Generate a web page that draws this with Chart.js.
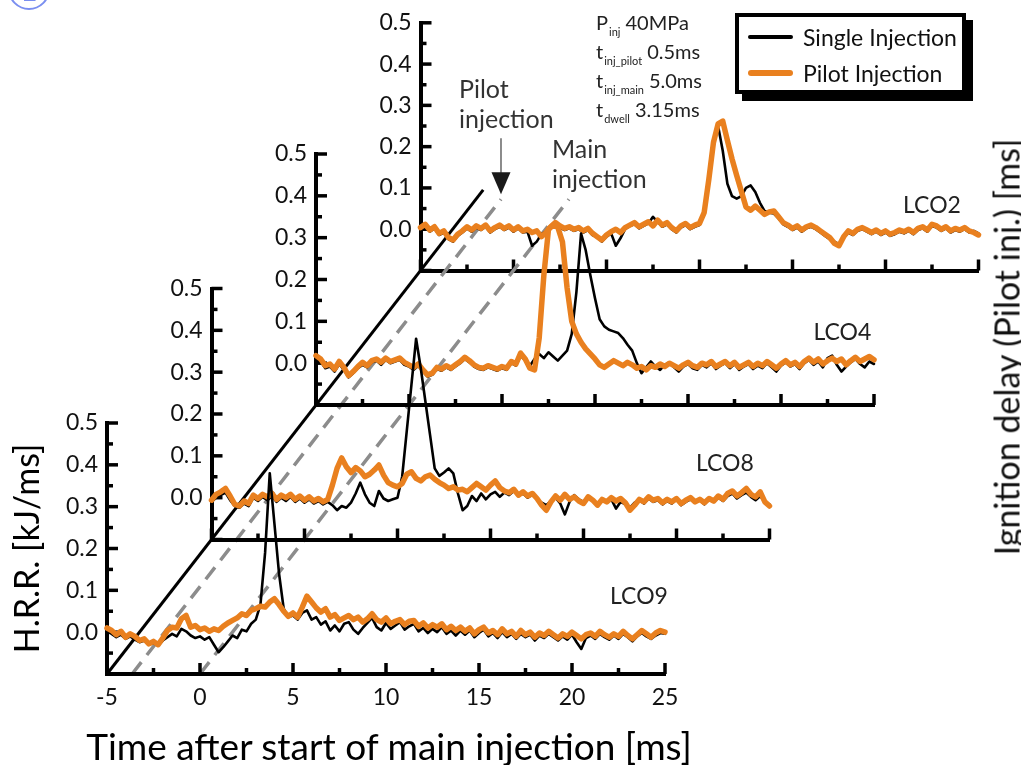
<!DOCTYPE html>
<html>
<head>
<meta charset="utf-8">
<script src="https://cdn.jsdelivr.net/npm/chart.js@4.4.1/dist/chart.umd.min.js"></script>
<style>
  html, body { margin: 0; padding: 0; background: #fff; }
  #wrap { position: relative; width: 1021px; height: 765px; overflow: hidden;
          font-family: Lato, "Open Sans", sans-serif; color: #222; }
  #wrap canvas { position: absolute; left: 0; top: 0; }
  .note { position: absolute; font-size: 25px; line-height: 30px; color: #333; }
  #params { position: absolute; left: 596px; top: 8px; font-size: 20px; color: #222; }
  #params div { height: 29px; line-height: 29px; white-space: nowrap; }
  #params sub { font-size: 11px; line-height: 0; vertical-align: -6px; margin: 0 5px 0 1px; }
  #legend { position: absolute; left: 735px; top: 13px; width: 231px; height: 81px; box-sizing: border-box;
            border: 4px solid #000; background: #fff; box-shadow: 7px 7px 0 #000; }
  #legend .row { position: absolute; left: 0; height: 30px; font-size: 23px; line-height: 30px; color: #111; }
  #legend .swatch { position: absolute; left: 9px; top: 50%; width: 45px; }
  #legend .text { position: absolute; left: 64px; top: 0; white-space: nowrap; }
  #delayTitle { position: absolute; left: 1006px; top: 347px; font-size: 34px; white-space: nowrap; color: #111;
                transform: translate(-50%, -50%) rotate(-90deg); }
  #timeTitle { position: absolute; left: 389px; top: 745px; font-size: 37px; white-space: nowrap; color: #000;
               transform: translate(-50%, -50%); line-height: 1; }
  #figNo { position: absolute; left: 8px; top: -32px; width: 38px; height: 38px; border: 2px solid #7b8ff0;
           border-radius: 50%; color: #7b8ff0; font-size: 30px; line-height: 38px; text-align: center; }
</style>
</head>
<body>
<div id="wrap">
  <canvas id="p4" width="1021" height="765"></canvas>
  <canvas id="p3" width="1021" height="765"></canvas>
  <canvas id="p2" width="1021" height="765"></canvas>
  <canvas id="p1" width="1021" height="765"></canvas>
  <div id="figNo">1</div>
  <div id="params">
    <div>P<sub>inj</sub>40MPa</div>
    <div>t<sub>inj_pilot</sub>0.5ms</div>
    <div>t<sub>inj_main</sub>5.0ms</div>
    <div>t<sub>dwell</sub>3.15ms</div>
  </div>
  <div class="note" style="left:459px; top:73px;">Pilot<br>injection</div>
  <div class="note" style="left:552px; top:133px;">Main<br>injection</div>
  <div id="legend"></div>
  <div id="delayTitle">Ignition delay (Pilot inj.) [ms]</div>
  <div id="timeTitle">Time after start of main injection [ms]</div>
</div>
<script>
// sampling grid of the heat release traces, ms after start of main injection
const timeMs = Array.from({ length: 121 }, (_, i) => -5 + i * 0.25);

// heat release rate [kJ/ms], one array per fuel and injection strategy
const lco9Single = [
  0.002, -0.004, -0.012, -0.006, -0.016, -0.010, -0.018, -0.024,
  -0.020, -0.030, -0.026, -0.032, -0.020, -0.012, -0.004, -0.010,
  0.008, 0.002, -0.008, -0.014, -0.010, -0.018, -0.012, -0.030,
  -0.048, -0.036, -0.022, -0.008, -0.014, 0.006, 0.002, 0.020,
  0.030, 0.066, 0.190, 0.380, 0.260, 0.140, 0.056, 0.036,
  0.040, 0.030, 0.046, 0.052, 0.030, 0.036, 0.018, 0.026,
  0.004, 0.016, 0.002, 0.020, 0.024, 0.006, -0.004, 0.010,
  0.022, 0.034, 0.012, 0.004, 0.022, 0.008, 0.016, 0.024,
  0.006, 0.014, 0.020, 0.002, 0.010, -0.002, 0.008, 0.000,
  0.012, -0.004, 0.004, -0.008, 0.004, -0.006, 0.004, -0.012,
  -0.002, 0.006, -0.010, -0.002, -0.014, 0.000, -0.012, -0.004,
  -0.016, -0.004, -0.012, -0.006, -0.020, -0.008, -0.014, -0.004,
  -0.012, -0.020, -0.010, -0.018, -0.006, -0.024, -0.040, -0.014,
  -0.008, -0.016, -0.004, -0.012, -0.018, -0.008, -0.016, -0.004,
  -0.012, -0.022, -0.010, -0.002, -0.010, -0.016, -0.008, -0.002,
  -0.004
];
const lco9Pilot = [
  0.010, 0.004, -0.006, 0.002, -0.012, -0.004, -0.010, -0.020,
  -0.016, -0.028, -0.022, -0.030, -0.014, 0.004, 0.012, 0.010,
  0.032, 0.040, 0.012, 0.016, 0.006, 0.010, 0.002, 0.008,
  0.004, 0.014, 0.022, 0.028, 0.034, 0.044, 0.040, 0.052,
  0.056, 0.062, 0.060, 0.072, 0.080, 0.066, 0.050, 0.038,
  0.046, 0.036, 0.060, 0.086, 0.072, 0.058, 0.048, 0.056,
  0.036, 0.042, 0.028, 0.034, 0.040, 0.030, 0.036, 0.024,
  0.032, 0.044, 0.030, 0.024, 0.034, 0.020, 0.026, 0.030,
  0.018, 0.026, 0.028, 0.014, 0.022, 0.010, 0.018, 0.012,
  0.020, 0.006, 0.014, 0.004, 0.012, 0.002, 0.010, -0.004,
  0.006, 0.012, -0.002, 0.004, -0.006, 0.008, -0.004, 0.002,
  -0.010, 0.004, -0.006, 0.000, -0.012, -0.002, -0.008, 0.002,
  -0.006, -0.014, -0.004, -0.010, 0.000, -0.008, -0.016, -0.006,
  -0.002, -0.010, 0.002, -0.006, -0.012, -0.004, -0.010, 0.002,
  -0.008, -0.016, -0.006, 0.004, -0.004, -0.012, -0.002, 0.004,
  0.000
];
const lco8Single = [
  -0.010, 0.000, 0.006, 0.012, -0.006, -0.020, -0.024, -0.014,
  -0.020, 0.000, -0.008, 0.002, -0.006, 0.004, -0.010, 0.000,
  -0.008, 0.002, -0.010, -0.002, -0.012, -0.004, -0.014, -0.008,
  -0.016, -0.010, -0.018, -0.030, -0.020, -0.024, -0.012, 0.010,
  0.036, 0.008, -0.012, -0.020, 0.016, -0.002, -0.008, -0.004,
  0.000, 0.050, 0.160, 0.270, 0.380, 0.310, 0.230, 0.150,
  0.070, 0.052, 0.060, 0.070, 0.058, 0.010, -0.030, -0.020,
  0.004, -0.008, 0.010, -0.004, 0.008, 0.014, 0.002, 0.012,
  0.006, 0.016, 0.004, 0.010, 0.000, 0.008, -0.004, -0.012,
  -0.018, -0.008, 0.000, -0.014, -0.040, -0.010, 0.006, -0.004,
  -0.010, 0.004, -0.008, -0.014, -0.006, -0.012, -0.004, -0.026,
  -0.010, -0.016, -0.024, -0.012, -0.006, -0.014, -0.002, -0.010,
  -0.006, -0.016, -0.008, -0.014, -0.004, -0.018, -0.010, -0.004,
  -0.012, -0.006, -0.016, -0.004, -0.010, 0.000, -0.008, 0.004,
  0.010, -0.002, 0.006, 0.012, 0.002, -0.006, 0.004, -0.010,
  -0.016
];
const lco8Pilot = [
  -0.006, 0.008, 0.014, 0.022, 0.004, -0.016, -0.020, -0.008,
  -0.014, 0.006, -0.002, 0.008, 0.002, 0.010, -0.004, 0.006,
  0.000, 0.008, -0.004, 0.004, -0.006, 0.002, -0.008, -0.002,
  -0.010, -0.004, 0.030, 0.070, 0.095, 0.074, 0.060, 0.072,
  0.064, 0.050, 0.056, 0.066, 0.078, 0.054, 0.036, 0.030,
  0.026, 0.034, 0.056, 0.062, 0.046, 0.040, 0.050, 0.054,
  0.044, 0.036, 0.030, 0.022, 0.026, 0.018, 0.020, 0.014,
  0.024, 0.034, 0.026, 0.018, 0.030, 0.040, 0.024, 0.016,
  0.012, 0.020, 0.006, 0.014, 0.004, 0.010, -0.002, -0.018,
  -0.030, -0.010, 0.004, -0.006, 0.008, -0.004, 0.002, -0.008,
  -0.014, 0.002, -0.006, -0.018, -0.004, -0.010, 0.000, -0.008,
  -0.002, -0.012, -0.030, -0.018, -0.004, -0.010, 0.002, -0.006,
  -0.002, -0.012, -0.004, -0.010, -0.002, -0.014, -0.006, 0.000,
  -0.010, -0.004, -0.012, -0.002, -0.008, 0.004, -0.004, 0.010,
  0.016, 0.004, 0.012, 0.022, 0.008, 0.002, 0.014, -0.010,
  -0.020
];
const lco4Single = [
  0.010, 0.004, -0.012, -0.008, -0.020, -0.002, -0.016, -0.034,
  -0.024, -0.012, -0.004, -0.010, 0.002, 0.006, -0.004, 0.008,
  0.000, 0.004, 0.008, -0.004, -0.008, -0.016, -0.006, -0.020,
  -0.032, -0.028, -0.014, -0.018, -0.010, -0.016, -0.008, 0.000,
  0.010, 0.002, -0.008, -0.014, -0.016, -0.010, -0.014, -0.018,
  -0.012, -0.016, 0.000, -0.006, 0.018, 0.006, -0.006, 0.010,
  0.022, 0.012, 0.026, 0.016, 0.006, 0.018, 0.030, 0.070,
  0.170, 0.310, 0.270, 0.210, 0.155, 0.105, 0.088, 0.080,
  0.076, 0.072, 0.060, 0.044, 0.030, 0.000, -0.024, -0.010,
  0.004, -0.008, -0.016, -0.004, 0.002, -0.010, -0.020, -0.008,
  -0.002, -0.012, -0.016, -0.004, -0.010, 0.000, -0.014, -0.006,
  0.000, -0.012, -0.002, -0.016, -0.008, -0.002, -0.014, -0.006,
  -0.012, 0.000, -0.010, -0.020, -0.006, 0.002, -0.008, -0.002,
  -0.014, 0.000, 0.008, -0.004, 0.004, -0.010, 0.012, 0.018,
  -0.004, -0.020, -0.008, 0.002, 0.010, -0.002, -0.010, 0.004,
  -0.002
];
const lco4Pilot = [
  0.018, 0.010, -0.006, -0.002, -0.014, 0.004, -0.010, -0.030,
  -0.020, -0.008, 0.002, -0.006, 0.006, 0.010, 0.002, 0.012,
  0.004, 0.008, 0.012, 0.002, -0.004, -0.010, -0.002, -0.016,
  -0.028, -0.024, -0.010, -0.014, -0.006, -0.012, -0.004, 0.004,
  0.014, 0.006, -0.004, -0.010, -0.012, -0.006, -0.010, -0.014,
  -0.008, -0.012, 0.004, -0.002, 0.024, 0.010, -0.012, -0.016,
  0.060, 0.210, 0.320, 0.330, 0.325, 0.290, 0.180, 0.100,
  0.070, 0.050, 0.034, 0.022, 0.010, -0.004, -0.010, -0.002,
  0.006, 0.000, -0.006, 0.002, -0.004, -0.012, -0.008, -0.016,
  -0.006, -0.010, -0.002, -0.008, 0.000, -0.006, -0.012, -0.004,
  0.002, -0.006, -0.010, 0.000, -0.004, 0.004, -0.008, -0.002,
  0.004, -0.006, 0.002, -0.010, -0.004, 0.002, -0.008, 0.000,
  -0.006, 0.004, -0.004, -0.012, -0.002, 0.006, -0.004, 0.002,
  -0.008, 0.004, 0.012, 0.002, 0.010, -0.002, 0.006, 0.012,
  0.004, 0.010, -0.004, 0.006, 0.014, 0.004, 0.010, 0.016,
  0.008
];
const lco2Single = [
  0.000, 0.008, -0.006, 0.002, -0.014, -0.008, -0.024, -0.030,
  -0.016, -0.008, 0.002, -0.006, 0.004, -0.002, 0.006, -0.008,
  0.000, 0.006, -0.002, 0.004, -0.006, 0.002, -0.008, -0.006,
  -0.040, -0.030, -0.012, -0.006, 0.002, 0.010, 0.004, -0.002,
  0.002, -0.004, 0.000, -0.008, -0.002, -0.014, -0.020, -0.030,
  -0.018, -0.010, -0.040, -0.022, 0.000, 0.008, 0.012, 0.002,
  0.008, 0.014, 0.030, 0.018, 0.006, 0.012, 0.000, -0.008,
  0.004, 0.010, 0.000, 0.006, 0.010, 0.036, 0.120, 0.210,
  0.250, 0.190, 0.110, 0.080, 0.074, 0.080, 0.100, 0.106,
  0.090, 0.064, 0.044, 0.040, 0.038, 0.026, 0.012, 0.006,
  -0.002, 0.004, -0.006, 0.002, 0.006, 0.000, -0.008, -0.016,
  -0.024, -0.030, -0.036, -0.022, -0.008, -0.014, -0.004, 0.000,
  -0.006, -0.012, -0.006, -0.014, -0.008, -0.016, -0.012, -0.006,
  -0.010, -0.004, -0.012, -0.002, 0.002, -0.006, 0.008, 0.004,
  -0.004, 0.002, -0.008, -0.002, -0.006, 0.000, -0.008, -0.004,
  -0.010
];
const lco2Pilot = [
  0.004, 0.012, -0.002, 0.006, -0.010, -0.004, -0.020, -0.026,
  -0.012, -0.004, 0.006, -0.002, 0.008, 0.002, 0.010, -0.004,
  0.004, 0.010, 0.002, 0.008, -0.002, 0.006, -0.004, 0.000,
  -0.008, -0.004, -0.018, -0.008, 0.006, 0.016, 0.008, 0.002,
  0.006, 0.000, 0.004, -0.004, 0.002, -0.010, -0.018, -0.026,
  -0.014, -0.006, 0.000, -0.008, 0.004, 0.010, 0.016, 0.006,
  0.012, 0.018, 0.008, 0.022, 0.010, 0.016, 0.004, -0.004,
  0.008, 0.014, 0.004, 0.010, 0.014, 0.040, 0.120, 0.210,
  0.255, 0.262, 0.215, 0.170, 0.130, 0.092, 0.054, 0.046,
  0.056, 0.046, 0.036, 0.042, 0.044, 0.030, 0.016, 0.010,
  0.002, 0.008, -0.002, 0.006, 0.010, 0.004, -0.004, -0.012,
  -0.020, -0.034, -0.040, -0.018, -0.004, -0.010, 0.000, 0.004,
  -0.002, -0.008, -0.002, -0.010, -0.004, -0.012, -0.008, -0.002,
  -0.006, 0.000, -0.008, 0.002, 0.006, -0.002, 0.012, 0.008,
  0.000, 0.006, -0.004, 0.002, -0.002, 0.004, -0.004, -0.008,
  -0.014
];

// injection timing [ms]
const tDwell = 3.15;
const tPilot = 0.5;
const pilotStart = -(tDwell + tPilot);

const FONT = 'Lato, "Open Sans", sans-serif';
const SINGLE = { label: 'Single Injection', color: '#000000', width: 2.6 };
const PILOT = { label: 'Pilot Injection', color: '#E9801F', width: 5.5 };

// every fuel gets its own panel, shifted up and right from the previous one
const PANEL = { left: 107, top: 423, width: 558, height: 251 };
const STEP = { x: 104.5, y: -134.5 };
const W = 1021, H = 765;

const panels = [
  { canvas: 'p1', tag: 'LCO9', single: lco9Single, pilot: lco9Pilot, tagAt: [23.6, 0.084] },
  { canvas: 'p2', tag: 'LCO8', single: lco8Single, pilot: lco8Pilot, tagAt: [22.6, 0.081] },
  { canvas: 'p3', tag: 'LCO4', single: lco4Single, pilot: lco4Pilot, tagAt: [23.3, 0.072] },
  { canvas: 'p4', tag: 'LCO2', single: lco2Single, pilot: lco2Pilot, tagAt: [22.5, 0.057] }
];

// diagonal guides through the panel corners: the -5 ms edge, pilot and main injection start
const guides = [
  { at: -5, color: '#000', width: 3, dash: [], reach: 0.6 },
  { at: pilotStart, color: '#8c8c8c', width: 3.5, dash: [15, 9], reach: 0.53, arrow: true },
  { at: 0, color: '#8c8c8c', width: 3.5, dash: [15, 9], reach: 0.53 }
];

// tick marks point into the plot, minor ones halfway between the labels
const inwardTicks = {
  id: 'inwardTicks',
  beforeDatasetsDraw(chart) {
    const { ctx, chartArea } = chart;
    const xs = chart.scales.x, ys = chart.scales.y;
    ctx.save();
    ctx.strokeStyle = '#000';
    ctx.lineWidth = 3.5;
    const mark = (vals, draw) => {
      vals.forEach((v, i) => {
        draw(v, 11);
        if (i < vals.length - 1) draw((v + vals[i + 1]) / 2, 6);
      });
    };
    mark(xs.ticks.map(t => t.value), (v, len) => {
      const px = xs.getPixelForValue(v);
      ctx.beginPath();
      ctx.moveTo(px, chartArea.bottom);
      ctx.lineTo(px, chartArea.bottom - len);
      ctx.stroke();
    });
    mark(ys.ticks.map(t => t.value), (v, len) => {
      const py = ys.getPixelForValue(v);
      ctx.beginPath();
      ctx.moveTo(chartArea.left, py);
      ctx.lineTo(chartArea.left + len, py);
      ctx.stroke();
    });
    ctx.restore();
  }
};

const fuelTag = {
  id: 'fuelTag',
  afterDatasetsDraw(chart, args, opts) {
    const { ctx } = chart;
    ctx.save();
    ctx.font = '23px ' + FONT;
    ctx.fillStyle = '#222';
    ctx.textAlign = 'center';
    ctx.textBaseline = 'middle';
    ctx.fillText(opts.text, chart.scales.x.getPixelForValue(opts.at[0]), chart.scales.y.getPixelForValue(opts.at[1]));
    ctx.restore();
  }
};

const diagonalGuides = {
  id: 'diagonalGuides',
  beforeDatasetsDraw(chart, args, opts) {
    if (!opts.enabled) return;
    const { ctx } = chart;
    const xs = chart.scales.x, ys = chart.scales.y;
    const yb = ys.getPixelForValue(ys.min);
    const below = panels.length - 1;
    ctx.save();
    guides.forEach(g => {
      const xb = xs.getPixelForValue(g.at);
      const end = { x: xb + STEP.x * g.reach, y: yb + STEP.y * g.reach };
      ctx.beginPath();
      ctx.setLineDash(g.dash);
      ctx.strokeStyle = g.color;
      ctx.lineWidth = g.width;
      ctx.moveTo(xb - STEP.x * below, yb - STEP.y * below);
      ctx.lineTo(end.x, end.y);
      ctx.stroke();
      if (g.arrow) {
        const tipY = end.y - 5;
        ctx.setLineDash([]);
        ctx.strokeStyle = '#666';
        ctx.lineWidth = 1.5;
        ctx.beginPath();
        ctx.moveTo(end.x, tipY - 56);
        ctx.lineTo(end.x, tipY - 18);
        ctx.stroke();
        ctx.fillStyle = '#1a1a1a';
        ctx.beginPath();
        ctx.moveTo(end.x, tipY);
        ctx.lineTo(end.x - 9.5, tipY - 22);
        ctx.lineTo(end.x + 9.5, tipY - 22);
        ctx.closePath();
        ctx.fill();
      }
    });
    ctx.restore();
  }
};

function series(values, style, order) {
  return {
    label: style.label,
    data: timeMs.map((t, i) => ({ x: t, y: values[i] })),
    borderColor: style.color,
    borderWidth: style.width,
    borderJoinStyle: 'round',
    borderCapStyle: 'round',
    pointRadius: 0,
    tension: 0,
    fill: false,
    clip: false,
    order: order
  };
}

panels.forEach((p, k) => {
  const left = PANEL.left + STEP.x * k;
  const top = PANEL.top + STEP.y * k;
  const right = left + PANEL.width;
  const bottom = top + PANEL.height;
  const first = k === 0;
  const yAxisW = first ? 107 : 60;
  const xAxisH = first ? 89 : 10;

  new Chart(document.getElementById(p.canvas), {
    type: 'line',
    data: {
      datasets: [series(p.single, SINGLE, 1), series(p.pilot, PILOT, 0)]
    },
    options: {
      responsive: false,
      animation: false,
      devicePixelRatio: 1,
      layout: {
        autoPadding: false,
        padding: { left: left - yAxisW, top: top, right: W - right, bottom: H - bottom - xAxisH }
      },
      plugins: {
        legend: { display: false },
        tooltip: { enabled: false },
        fuelTag: { text: p.tag, at: p.tagAt },
        diagonalGuides: { enabled: k === panels.length - 1 }
      },
      scales: {
        x: {
          type: 'linear',
          min: -5,
          max: 25,
          ticks: { stepSize: 5, display: first, color: '#111', padding: 10, font: { family: FONT, size: 23 } },
          grid: { display: false, drawTicks: false },
          border: { color: '#000', width: 4 },
          afterFit: s => { s.height = xAxisH; }
        },
        y: {
          min: -0.1,
          max: 0.5,
          ticks: {
            stepSize: 0.1,
            color: '#111',
            padding: 9,
            font: { family: FONT, size: 23 },
            callback: v => (v < -0.05 ? '' : (Math.round(v * 10) / 10).toFixed(1))
          },
          grid: { display: false, drawTicks: false },
          border: { color: '#000', width: 4 },
          title: {
            display: first,
            text: 'H.R.R. [kJ/ms]',
            color: '#000',
            font: { family: FONT, size: 34, lineHeight: 1 },
            padding: { top: 11, bottom: 0 }
          },
          afterFit: s => { s.width = yAxisW; }
        }
      }
    },
    plugins: [inwardTicks, fuelTag, diagonalGuides]
  });
});

// legend box built from the two series styles
const legend = document.getElementById('legend');
[SINGLE, PILOT].forEach((s, i) => {
  const row = document.createElement('div');
  row.className = 'row';
  row.style.top = (5 + i * 36) + 'px';
  row.style.width = '100%';
  const sw = document.createElement('span');
  sw.className = 'swatch';
  sw.style.height = (s.width + 1) + 'px';
  sw.style.marginTop = (-(s.width + 1) / 2) + 'px';
  sw.style.background = s.color;
  sw.style.borderRadius = '3px';
  const tx = document.createElement('span');
  tx.className = 'text';
  tx.textContent = s.label;
  row.appendChild(sw);
  row.appendChild(tx);
  legend.appendChild(row);
});
</script>
</body>
</html>
